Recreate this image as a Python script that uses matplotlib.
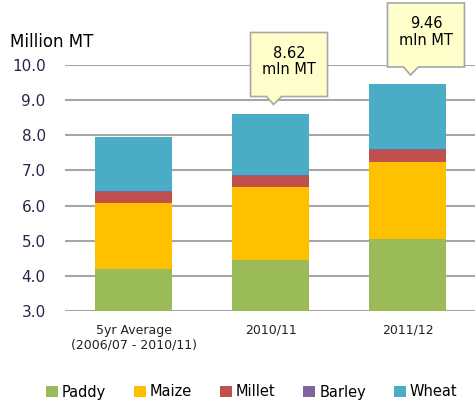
import matplotlib
matplotlib.use("Agg")
import matplotlib.pyplot as plt
from matplotlib.transforms import ScaledTranslation
from matplotlib.patches import Polygon
import numpy as np

categories = ["5yr Average\n(2006/07 - 2010/11)", "2010/11", "2011/12"]
paddy = [4.20, 4.46, 5.06]
maize = [1.88, 2.06, 2.19]
millet = [0.32, 0.33, 0.33]
barley = [0.02, 0.02, 0.02]
wheat = [1.54, 1.75, 1.86]
callout_labels = ["", "8.62\nmln MT", "9.46\nmln MT"]
yticks = [3.0, 4.0, 5.0, 6.0, 7.0, 8.0, 9.0, 10.0]

series = [("Paddy", paddy, "#9BBB59"), ("Maize", maize, "#FFC000"),
          ("Millet", millet, "#C0504D"), ("Barley", barley, "#8064A2"),
          ("Wheat", wheat, "#4BACC6")]

fig = plt.figure(figsize=(4.75, 4.01), dpi=100)
ax = fig.add_axes([0.137, 0.2244, 0.865, 0.6135])
x = np.arange(len(categories))
bottom = np.zeros(len(categories))
for name, vals, col in series:
    ax.bar(x, vals, width=0.56, bottom=bottom, color=col, label=name, zorder=3)
    bottom += np.array(vals)

ax.set_ylim(3, 10)
ax.set_xlim(-0.5, 2.5)
ax.set_yticks(yticks)
ax.set_yticklabels([f"{v:.1f}" for v in yticks], fontsize=11, color="#26264a")
ax.set_xticks(x)
ax.set_xticklabels(categories, fontsize=9, color="#222222", linespacing=1.2)
ax.tick_params(axis="both", length=0)
ax.tick_params(axis="y", pad=14)
ax.tick_params(axis="x", pad=9)
for s in ax.spines.values():
    s.set_visible(False)
ax.yaxis.grid(True, color="#A6A6A6", linewidth=1.5, zorder=0)
ax.set_axisbelow(True)

fig.text(10/475, 1 - 42/401, "Million MT", fontsize=12, va="center", ha="left")

# callout shape in pixel offsets from the bar top centre
box_l, box_r, box_b, box_t = -20, 57, 17, 81
tri_l, tri_r, tip_x, tip_y = -4, 11, 3, 9
shape = [(box_l, box_b), (tri_l, box_b), (tip_x, tip_y), (tri_r, box_b), (box_r, box_b),
         (box_r, box_t), (box_l, box_t)]
for i, lab in enumerate(callout_labels):
    if not lab:
        continue
    top = bottom[i]
    trans = fig.dpi_scale_trans + ScaledTranslation(x[i], top, ax.transData)
    verts = [(px / fig.dpi, py / fig.dpi) for px, py in shape]
    poly = Polygon(verts, closed=True, transform=trans, facecolor="#FFFFCC",
                   edgecolor="#A6A6A6", linewidth=1.2, zorder=7, clip_on=False)
    fig.add_artist(poly)
    fig.text((box_l + box_r) / 2 / fig.dpi, ((box_b + box_t) / 2 + 3) / fig.dpi, lab, transform=trans,
             ha="center", va="center", fontsize=10.5, linespacing=1.1, zorder=8)

handles, labels = ax.get_legend_handles_labels()
fig.legend(handles, labels, loc="center", bbox_to_anchor=(0.53, 1 - 392/401), ncol=5, frameon=False,
           fontsize=10.5, handlelength=0.8, handleheight=0.8, handletextpad=0.3, columnspacing=1.9)

fig.savefig("out.png", dpi=100)
